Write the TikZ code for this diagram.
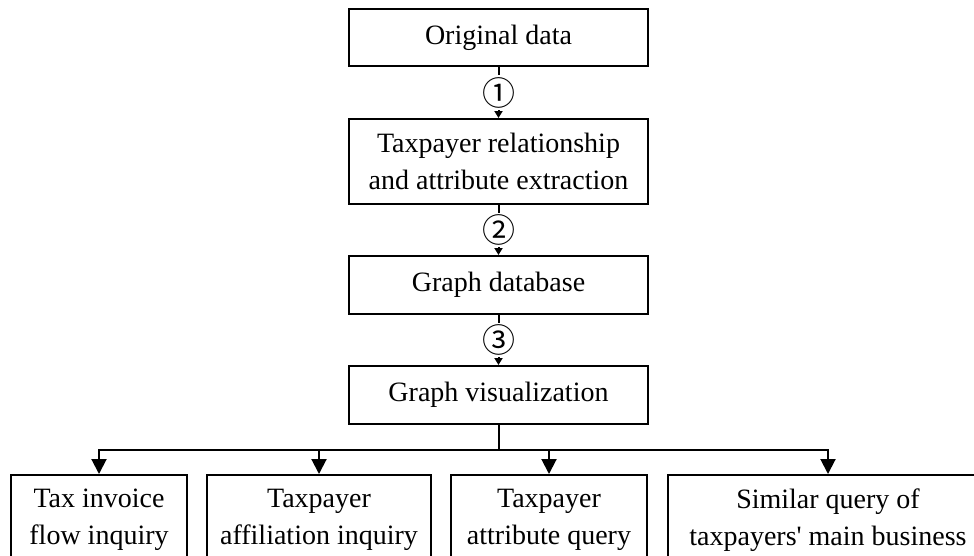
\documentclass[tikz,border=0pt]{standalone}
\usepackage{fontspec}
\setmainfont{Liberation Serif}
\newfontfamily\circfont{Noto Sans CJK SC}
\usetikzlibrary{arrows.meta, calc}
\tikzset{
    my-box/.style={
        draw, line width=2pt, align=center, inner sep=0pt, anchor=north,
        font=\fontsize{28}{37}\selectfont
    },
    my-step/.style={
        line width=2pt, -{Triangle[width=8pt, length=7pt]}
    },
    my-branch/.style={
        line width=2pt, -{Triangle[width=15pt, length=15pt]}
    },
    my-num/.style={
        fill=white, inner sep=2pt, font=\circfont\fontsize{33}{33}\selectfont
    },
}

\begin{document}
\begin{tikzpicture}[x=1pt, y=-1pt]

        \useasboundingbox (0, 0) rectangle (974, 555);

        % MAIN CHAIN
        \node[my-box, minimum width=299pt, minimum height=57pt] (ORIG) at (498.5, 8)   {Original data};
        \node[my-box, minimum width=299pt, minimum height=85pt] (EXTR) at (498.5, 118) {Taxpayer relationship\\and attribute extraction};
        \node[my-box, minimum width=299pt, minimum height=58pt] (GDB)  at (498.5, 255) {Graph database};
        \node[my-box, minimum width=299pt, minimum height=58pt] (GVIS) at (498.5, 365) {Graph visualization};

        % STEPS
        \draw[my-step] (ORIG) -- node[my-num] {①} (EXTR);
        \draw[my-step] (EXTR) -- node[my-num] {②} (GDB);
        \draw[my-step] (GDB)  -- node[my-num] {③} (GVIS);

        % QUERIES
        \node[my-box, minimum width=176pt, minimum height=90pt] (TAX)  at (99, 474)  {Tax invoice\\flow inquiry};
        \node[my-box, minimum width=224pt, minimum height=90pt] (AFF)  at (319, 474) {Taxpayer\\affiliation inquiry};
        \node[my-box, minimum width=196pt, minimum height=90pt] (ATTR) at (549, 474) {Taxpayer\\attribute query};
        \node[my-box, minimum width=320pt, minimum height=90pt] (SIM)  at (828, 474) {Similar query of\\taxpayers\textquotesingle{} main business};

        % BRANCH WIRES
        \coordinate (SPLIT) at ($(GVIS.south) + (0, 25)$);
        \draw[line width=2pt] (GVIS) -- (SPLIT);
        \draw[my-branch] (SPLIT) -| (TAX);
        \draw[my-branch] (SPLIT) -| (AFF);
        \draw[my-branch] (SPLIT) -| (ATTR);
        \draw[my-branch] (SPLIT) -| (SIM);

    \end{tikzpicture}
\end{document}
